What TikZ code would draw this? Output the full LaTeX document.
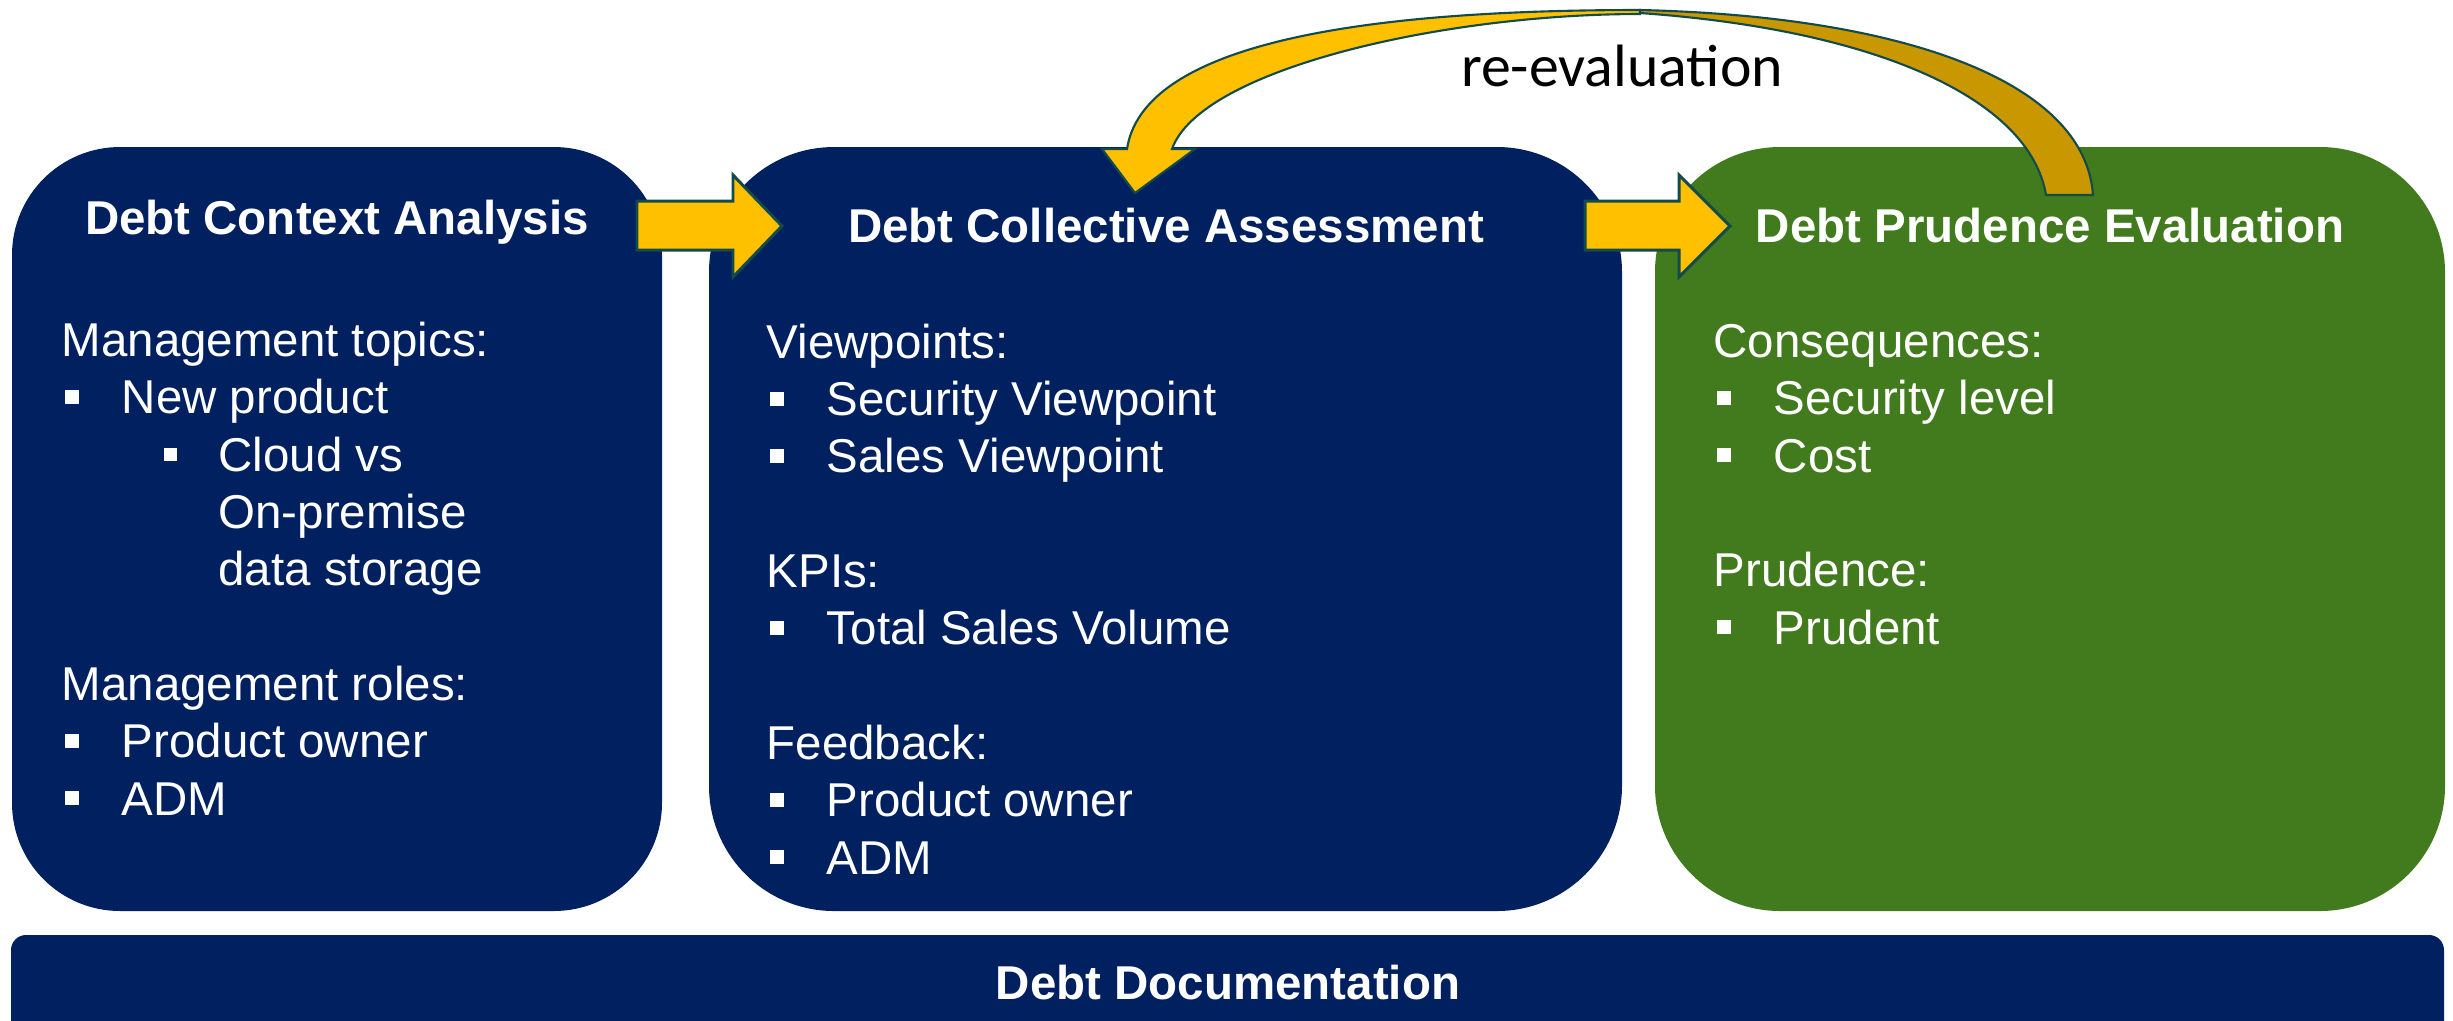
\documentclass[tikz,border=0pt]{standalone}
\usepackage{fontspec}
\setmainfont{Liberation Sans}
\newfontfamily\calfont{Carlito}

\definecolor{darkblue}{HTML}{002060}
\definecolor{leafgreen}{HTML}{427A1E}
\definecolor{arrowyellow}{HTML}{FFC000}
\definecolor{arrowgold}{HTML}{C99700}
\definecolor{arrowline}{HTML}{124B4B}

\newcommand{\sqbul}{\rule[2.8pt]{3.9pt}{3.9pt}}
\newcommand{\itm}[1]{\hspace*{1pt}\makebox[16.1pt][l]{\sqbul}#1}
\newcommand{\subitm}[1]{\hspace*{29pt}\makebox[15.6pt][l]{\sqbul}#1}
\newcommand{\subcont}[1]{\hspace*{44.6pt}#1}

\tikzset{
  title/.style={text=white, font=\fontsize{13.5}{16.2}\selectfont\bfseries, anchor=base, inner sep=0pt},
  body/.style={text=white, font=\fontsize{13.5}{16.3}\selectfont, align=left, anchor=base west, inner sep=0pt}, % base = last line
  blockarrow/.style={fill=arrowyellow, draw=arrowline, line width=0.85pt, line join=miter},
  bentarrow/.style={draw=arrowline, line width=0.6pt, line join=miter},
}

\begin{document}
\begin{tikzpicture}[x=0.01cm, y=-0.01cm]
\clip (0,0) rectangle (2453,1020);

\fill[darkblue, rounded corners=1.08cm] (12,147) rectangle (662,911); %context box
\fill[darkblue, rounded corners=1.25cm] (709,147) rectangle (1622,911); %assessment box
\fill[leafgreen, rounded corners=1.25cm] (1655,147) rectangle (2445,911); %prudence box
\fill[darkblue, rounded corners=0.15cm] (11,935) rectangle (2444,1060); %documentation bar

\node[title] (ctx) at (337,234) {Debt Context Analysis};
\node[title] (assess) at (1166,242) {Debt Collective Assessment};
\node[title] (prud) at (2050,242) {Debt Prudence Evaluation};
\node[title] (doc) at (1228,999) {Debt Documentation};

\node[body] (ctxtext) at (61,815) {Management topics:\\
\itm{New product}\\
\subitm{Cloud vs}\\
\subcont{On-premise}\\
\subcont{data storage}\\[16.3pt]
Management roles:\\
\itm{Product owner}\\
\itm{ADM}};

\node[body] (assesstext) at (766,874) {Viewpoints:\\
\itm{Security Viewpoint}\\
\itm{Sales Viewpoint}\\[16.3pt]
KPIs:\\
\itm{Total Sales Volume}\\[16.3pt]
Feedback:\\
\itm{Product owner}\\
\itm{ADM}};

\node[body] (prudtext) at (1713,644) {Consequences:\\
\itm{Security level}\\
\itm{Cost}\\[16.3pt]
Prudence:\\
\itm{Prudent}};

% block arrows between the phases
\draw[blockarrow] (637,201) -- (733,201) -- (733,175) -- (782,226) -- (733,277) -- (733,250) -- (637,250) -- cycle;
\draw[blockarrow] (1585,201) -- (1679,201) -- (1679,175) -- (1730,226) -- (1679,277) -- (1679,250) -- (1585,250) -- cycle;

% re-evaluation loop, back part then front part
\draw[bentarrow, fill=arrowgold] (1640,10) .. controls (1900,16) and (2085,80) .. (2093,195)
  -- (2046,195) .. controls (2030,100) and (1880,30) .. (1640,13) -- cycle;
\draw[bentarrow, fill=arrowyellow] (1640,10) .. controls (1420,10) and (1145,30) .. (1127,149)
  -- (1102,149) -- (1135,193) -- (1195,149) -- (1172,149)
  .. controls (1200,70) and (1440,14) .. (1640,14) -- cycle;

\node[font=\calfont\fontsize{17}{20}\selectfont, anchor=base, inner sep=0pt] (reeval) at (1622,86) {re-evaluation};

\end{tikzpicture}
\end{document}
